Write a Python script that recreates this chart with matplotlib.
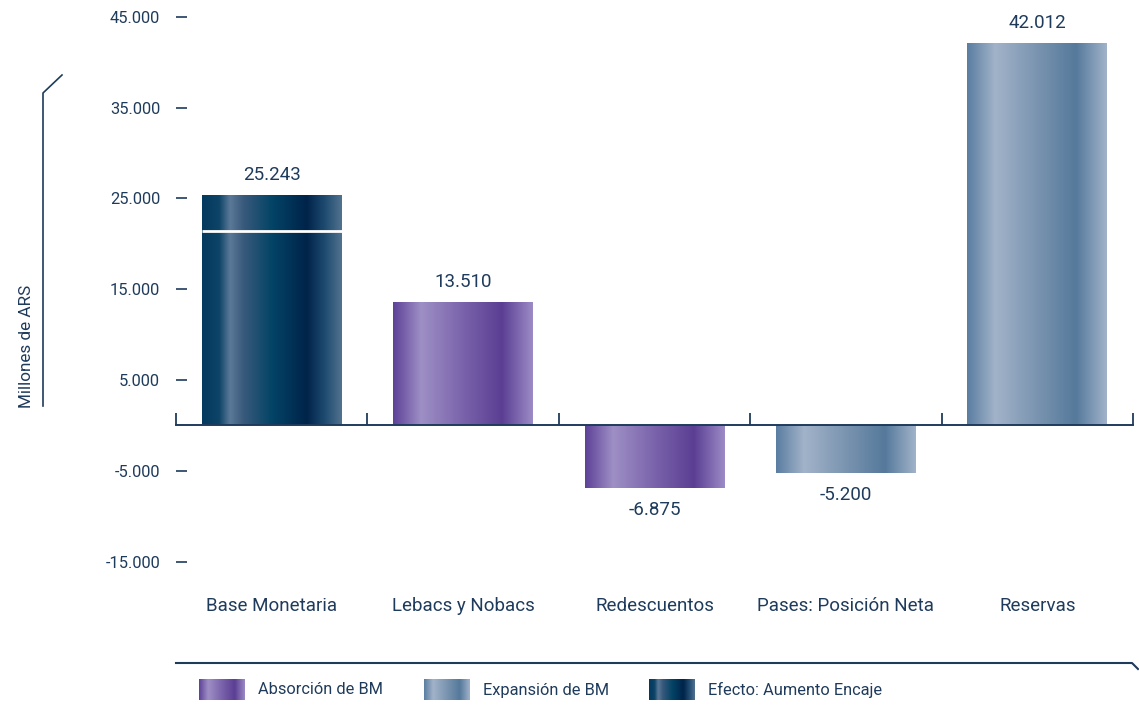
import numpy as np
import matplotlib
matplotlib.use("Agg")
import matplotlib.pyplot as plt
from matplotlib.colors import LinearSegmentedColormap
from matplotlib.transforms import blended_transform_factory

# ---- data ---------------------------------------------------------------
categories = ["Base Monetaria", "Lebacs y Nobacs", "Redescuentos",
              "Pases: Posición Neta", "Reservas"]
values = [25243, 13510, -6875, -5200, 42012]
series = ["efecto", "absorcion", "absorcion", "expansion", "expansion"]
encaje_split = 21400          # level marked inside the Base Monetaria bar
y_ticks = [-15000, -5000, 5000, 15000, 25000, 35000, 45000]
legend_labels = {"absorcion": "Absorción de BM",
                 "expansion": "Expansión de BM",
                 "efecto": "Efecto: Aumento Encaje"}

# ---- styling ------------------------------------------------------------
TXT = "#1f3b5c"
plt.rcParams["font.family"] = ["Roboto", "DejaVu Sans"]

cmaps = {
    "absorcion": LinearSegmentedColormap.from_list("abs", [
        (0.00, "#5d4197"), (0.20, "#9e8fc5"), (0.50, "#7a63ab"),
        (0.78, "#5b3e93"), (1.00, "#9c8bc6")]),
    "expansion": LinearSegmentedColormap.from_list("exp", [
        (0.00, "#5a7da1"), (0.20, "#a2b3c9"), (0.50, "#7a94b0"),
        (0.78, "#55799b"), (1.00, "#a1b3ca")]),
    "efecto": LinearSegmentedColormap.from_list("efe", [
        (0.00, "#033a5f"), (0.12, "#0c4366"), (0.20, "#5b7998"),
        (0.30, "#38597b"), (0.50, "#034466"), (0.75, "#00234a"),
        (0.88, "#1f4b70"), (1.00, "#52728f")]),
}
grad = np.linspace(0, 1, 256)[np.newaxis, :]

W, H = 1139, 705
fig = plt.figure(figsize=(W / 100, H / 100), dpi=100)

# plot area in pixel terms
ax_left, ax_right, ax_top, ax_bot = 176, 1133, 10, 575
ax = fig.add_axes([ax_left / W, 1 - ax_bot / H,
                   (ax_right - ax_left) / W, (ax_bot - ax_top) / H])

x = np.arange(len(categories))
bars = ax.bar(x, values, width=0.73, facecolor="none", edgecolor="none")
ylim = (-16476, 45749)
xlim = (-0.5, len(categories) - 0.5)

for b, s in zip(bars, series):
    bx, by = b.get_x(), b.get_y()
    bw, bh = b.get_width(), b.get_height()
    ax.imshow(grad, extent=(bx, bx + bw, by, by + bh), aspect="auto",
              cmap=cmaps[s], interpolation="bicubic", zorder=2)

# marker line inside the first bar
b0 = bars[0]
ax.plot([b0.get_x(), b0.get_x() + b0.get_width()], [encaje_split] * 2,
        color="white", lw=2, zorder=3, solid_capstyle="butt")

# value labels
for b, v in zip(bars, values):
    cx = b.get_x() + b.get_width() / 2
    txt = f"{v:,}".replace(",", ".")
    if v >= 0:
        ax.annotate(txt, (cx, v), xytext=(0, 11.5), textcoords="offset points",
                    ha="center", va="baseline", fontsize=13.5, color=TXT)
    else:
        ax.annotate(txt, (cx, v), xytext=(0, -9.5), textcoords="offset points",
                    ha="center", va="top", fontsize=13.5, color=TXT)

ax.set_xlim(*xlim)
ax.set_ylim(*ylim)

# baseline and category dividers
for sp in ["left", "right", "top"]:
    ax.spines[sp].set_visible(False)
ax.spines["bottom"].set_position(("data", 0))
ax.spines["bottom"].set_color(TXT)
ax.spines["bottom"].set_linewidth(1.4)
ax.spines["bottom"].set_zorder(4)
ax.set_xticks(x)
ax.set_xticklabels([])
ax.tick_params(axis="x", which="major", length=0)
ax.set_xticks(np.arange(len(categories) + 1) - 0.5, minor=True)
ax.tick_params(axis="x", which="minor", direction="in", length=9,
               width=1.3, color=TXT)

# category labels below the plot
trans = blended_transform_factory(ax.transData, fig.transFigure)
for xi, c in zip(x, categories):
    ax.text(xi, 1 - 611 / H, c, transform=trans, ha="center", va="baseline",
            fontsize=13.5, color=TXT)

# y ticks
ax.set_yticks(y_ticks)
ax.set_yticklabels([f"{t:,}".replace(",", ".") for t in y_ticks])
ax.tick_params(axis="y", direction="in", length=8, width=1.2, color=TXT,
               pad=11.5, labelsize=11.8, labelcolor=TXT)

# ---- decorations, y label and legend in figure pixel space --------------
deco = fig.add_axes([0, 0, 1, 1], zorder=-1)
deco.set_xlim(0, W)
deco.set_ylim(H, 0)
deco.axis("off")

deco.plot([43, 43, 62], [406, 93, 75], color=TXT, lw=1.2)
deco.text(27, 346, "Millones de ARS", rotation=90, ha="center", va="center",
          fontsize=12.3, color=TXT)

deco.plot([176, 1132, 1138], [663, 663, 669], color=TXT, lw=1.5)

sw_x = [199, 424, 649]
for sx, key in zip(sw_x, ["absorcion", "expansion", "efecto"]):
    deco.imshow(grad, extent=(sx, sx + 46, 700, 679), aspect="auto",
                cmap=cmaps[key], interpolation="bicubic")
    deco.text(sx + 59, 690, legend_labels[key], ha="left", va="center",
              fontsize=11.8, color=TXT)
deco.set_xlim(0, W)
deco.set_ylim(H, 0)

fig.savefig("out.png", dpi=100)
